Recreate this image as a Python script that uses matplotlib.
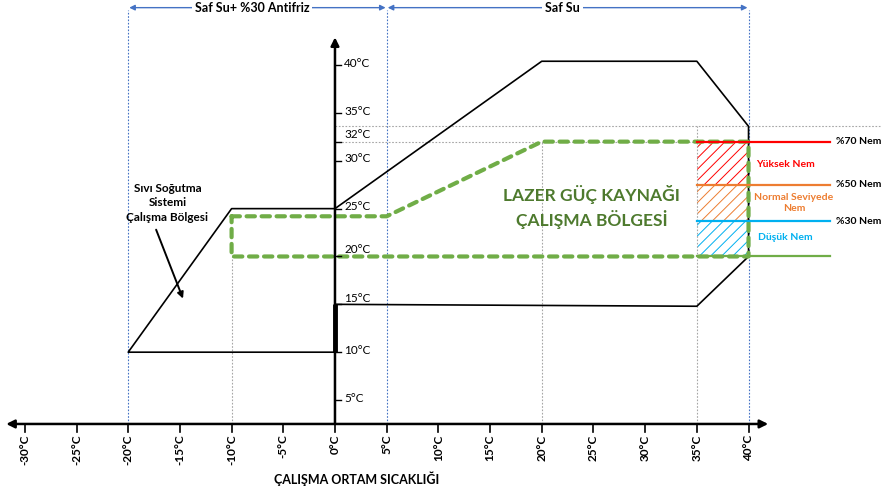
"""
Lazer güç kaynağı ve sıvı soğutma sistemi çalışma bölgeleri diyagramı.
"""

import matplotlib.pyplot as plt

plt.rcParams['font.family'] = ['Lato', 'DejaVu Sans']
plt.rcParams['hatch.linewidth'] = 0.7

# Eksen değerleri
x_ticks = [-30, -25, -20, -15, -10, -5, 0, 5, 10, 15, 20, 25, 30, 35, 40]
y_ticks = [5, 10, 15, 20, 25, 30, 32, 35, 40]

# Sıvı soğutma sistemi bölgesi
cooling_x = [0, -20, -10, 0]
cooling_y = [10, 10, 25, 25]

# Soğutucu (saf su) çalışma sınırı
chiller_x = [0, 20, 35, 40, 40, 35, 0]
chiller_y = [25, 40.4, 40.4, 33.6, 20, 14.8, 15]

# Lazer güç kaynağı çalışma bölgesi (yeşil kesikli)
laser_x = [-10, 5, 20, 40, 40, -10, -10]
laser_y = [24.2, 24.2, 32, 32, 20, 20, 24.2]

# Nem seviyeleri
humidity_levels = [32, 27.5, 23.7, 20]
humidity_labels = ['%70 Nem', '%50 Nem', '%30 Nem', '']
humidity_colors = ['#FF0000', '#ED7D31', '#00B0F0', '#70AD47']
zone_labels = ['Yüksek Nem', 'Normal Seviyede\nNem', 'Düşük Nem']
zone_label_x = [43.6, 44.4, 43.6]
zone_label_y = [29.6, 25.6, 22.0]

# Su tipi aralıkları
water_ranges = [(-20, 5, 'Saf Su+ %30 Antifriz'), (5, 40, 'Saf Su')]

GREEN = '#70AD47'
BLUE = '#4472C4'
GRAY = '#A6A6A6'

fig = plt.figure(figsize=(8.85, 4.9), dpi=100)
ax = fig.add_axes([0, 0, 1, 1])
ax.set_xlim(-32.4, 53.2)
ax.set_ylim(-4.4, 46.8)
ax.axis('off')

x_axis_y = 2.5

# Kılavuz çizgiler
for xv in [-20, 5, 40]:
    ax.plot([xv, xv], [x_axis_y, 45.8], color=BLUE, lw=0.8, ls=(0, (1.5, 1.5)))
ax.plot([-10, -10], [x_axis_y, 20], color=GRAY, lw=0.8, ls=(0, (1.5, 1.5)))
ax.plot([20, 20], [x_axis_y, 32], color=GRAY, lw=0.8, ls=(0, (1.5, 1.5)))
ax.plot([35, 35], [x_axis_y, 33.6], color=GRAY, lw=0.8, ls=(0, (1.5, 1.5)))
ax.plot([0, 52.8], [33.6, 33.6], color=GRAY, lw=0.8, ls=(0, (1.5, 1.5)))
ax.plot([0, 35], [32, 32], color=GRAY, lw=0.8, ls=(0, (1.5, 1.5)))

# Su tipi okları
for x0, x1, label in water_ranges:
    ax.annotate('', xy=(x0 + 0.1, 46.0), xytext=(x1 - 0.1, 46.0),
                arrowprops=dict(arrowstyle='<|-|>', color=BLUE, lw=1.0,
                                mutation_scale=8, shrinkA=0, shrinkB=0))
    ax.text((x0 + x1) / 2 - 0.5, 46.0, label, ha='center', va='center',
            fontsize=9, fontweight='bold',
            bbox=dict(facecolor='white', edgecolor='none', pad=2))

# Nem bölgeleri (taralı)
for i in range(3):
    ax.fill_between([35, 40], humidity_levels[i + 1], humidity_levels[i],
                    facecolor='none', edgecolor=humidity_colors[i],
                    hatch='///', lw=0)
    ax.text(zone_label_x[i], zone_label_y[i], zone_labels[i], ha='center',
            va='center', fontsize=7.5, fontweight='bold',
            color=humidity_colors[i], linespacing=1.3)

# Soğutma ve soğutucu sınırları
ax.plot(cooling_x, cooling_y, color='black', lw=1.2)
ax.plot(chiller_x, chiller_y, color='black', lw=1.2)

# Lazer bölgesi
ax.plot(laser_x, laser_y, color=GREEN, lw=3, ls=(0, (2, 1.6)),
        dash_capstyle='round', solid_joinstyle='round')

# Nem çizgileri
for lvl, lab, col in zip(humidity_levels, humidity_labels, humidity_colors):
    ax.plot([35, 47.9], [lvl, lvl], color=col, lw=1.6)
    if lab:
        ax.text(48.5, lvl, lab, ha='left', va='center', fontsize=7.5,
                fontweight='bold')

# Eksenler
ax.annotate('', xy=(-31.8, x_axis_y), xytext=(41.9, x_axis_y),
            arrowprops=dict(arrowstyle='<|-|>', color='black', lw=1.8,
                            mutation_scale=12, shrinkA=0, shrinkB=0))
ax.annotate('', xy=(0, 42.9), xytext=(0, x_axis_y),
            arrowprops=dict(arrowstyle='-|>', color='black', lw=1.8,
                            mutation_scale=12, shrinkA=0, shrinkB=0))
ax.plot([0, 0], [10, 15], color='black', lw=3.5, solid_capstyle='butt')

for xv in x_ticks:
    ax.plot([xv, xv], [x_axis_y, 1.7], color='black', lw=1.2)
    ax.text(xv, 1.4, f'{xv}°C', rotation=90, ha='center', va='top',
            fontsize=8.5, fontweight='bold')

for yv in y_ticks:
    ax.plot([0, 0.6], [yv, yv], color='black', lw=1.0)
    offset = {32: 0.7, 20: 0.7, 15: 0.6}.get(yv, 0.2)
    ax.text(0.9, yv + offset, f'{yv}°C', ha='left', va='center',
            fontsize=8.5)

ax.text(2.1, -3.2, 'ÇALIŞMA ORTAM SICAKLIĞI', ha='center', va='center',
        fontsize=9, fontweight='bold')

# Bölge açıklamaları
ax.text(-16.2, 25.6, 'Sıvı Soğutma\nSistemi\nÇalışma Bölgesi', ha='center',
        va='center', fontsize=8.5, fontweight='bold', linespacing=1.35)
ax.annotate('', xy=(-14.7, 15.6), xytext=(-17.3, 22.8),
            arrowprops=dict(arrowstyle='-|>', color='black', lw=1.4,
                            mutation_scale=9, shrinkA=0, shrinkB=0))

ax.text(24.8, 25.2, 'LAZER GÜÇ KAYNAĞI\nÇALIŞMA BÖLGESİ', ha='center',
        va='center', fontsize=12.5, fontweight='bold', color='#4E7A2E',
        linespacing=1.35)

fig.savefig('out.png', dpi=100)
plt.close(fig)
